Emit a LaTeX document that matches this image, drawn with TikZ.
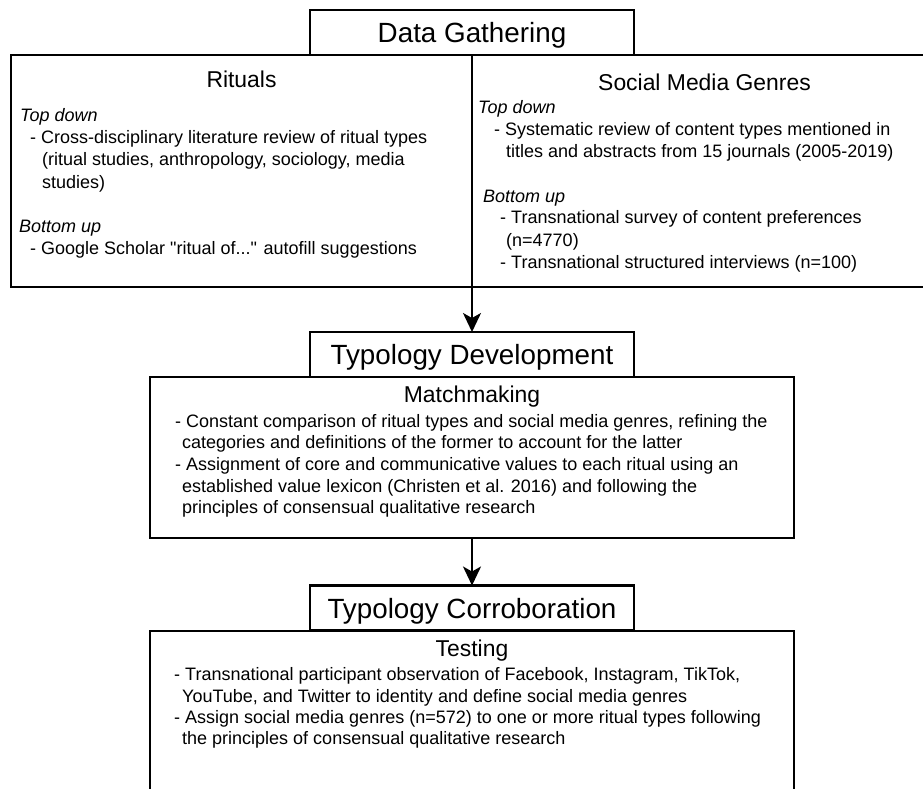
\documentclass[tikz,border=0pt]{standalone}
\usepackage{fontspec}
\setmainfont{Liberation Sans}
\usetikzlibrary{arrows.meta,positioning}

\tikzset{
    stagetitle/.style={draw, line width=2.2pt, fill=white, inner sep=0pt, outer sep=0pt,
        minimum width=324pt, minimum height=45pt, text depth=0pt,
        font=\fontsize{27.8}{32}\selectfont},
    panel/.style={draw, line width=2.4pt, inner sep=0pt, outer sep=0pt, anchor=north west},
    heading/.style={anchor=base, inner sep=0pt, font=\fontsize{22.9}{26}\selectfont},
    bodytext/.style={anchor=base west, inner sep=0pt, font=\fontsize{18}{22}\selectfont},
    flow/.style={line width=2pt, -{Stealth[length=19pt, width=18pt, inset=5pt]}}
}

\begin{document}
\begin{tikzpicture}[x=1pt, y=-1pt]
    \useasboundingbox (0,0) rectangle (923,788);

    % Panels
    \node [panel, minimum width=461pt, minimum height=232pt] (ritbox) at (11,55) {};
    \node [panel, minimum width=465pt, minimum height=232pt] (smgbox) at (472,55) {};
    \node [panel, minimum width=644pt, minimum height=161pt] (matchbox) at (150,377) {};
    \node [panel, minimum width=644pt, minimum height=190pt] (testbox) at (150,631) {};

    % Stage titles
    \node [stagetitle] (gathtitle) at (472,32.5) {Data Gathering};
    \node [stagetitle] (devtitle) at (472,354.5) {Typology Development};
    \node [stagetitle] (corrtitle) at (472,608) {Typology Corroboration};

    % Headings
    \node [heading] (rithead) at (241.5,87) {Rituals};
    \node [heading] (smghead) at (704.5,90) {Social Media Genres};
    \node [heading] (matchhead) at (472,402) {Matchmaking};
    \node [heading] (testhead) at (472,656) {Testing};

    % Rituals
    \foreach \x/\y/\txt [count=\i] in {
        20/121/{\itshape Top down},
        30/143/{- Cross-disciplinary literature review of ritual types},
        42/165/{(ritual studies, anthropology, sociology, media},
        42/188/{studies)},
        19/232/{\itshape Bottom up},
        30/254/{- Google Scholar \textquotedbl ritual of...\textquotedbl{} autofill suggestions}} {
        \node [bodytext] (rit\i) at (\x,\y) {\txt};
    }

    % Social media genres
    \foreach \x/\y/\txt [count=\i] in {
        478/113/{\itshape Top down},
        494/135/{- Systematic review of content types mentioned in},
        506/157/{titles and abstracts from 15 journals (2005-2019)},
        483/202/{\itshape Bottom up},
        500/223/{- Transnational survey of content preferences},
        506/246/{(n=4770)},
        500/268/{- Transnational structured interviews (n=100)}} {
        \node [bodytext] (smg\i) at (\x,\y) {\txt};
    }

    % Matchmaking
    \foreach \x/\y/\txt [count=\i] in {
        175/427/{- Constant comparison of ritual types and social media genres, refining the},
        182/448/{categories and definitions of the former to account for the latter},
        175/470/{- Assignment of core and communicative values to each ritual using an},
        182/492/{established value lexicon (Christen et al. 2016) and following the},
        182/513/{principles of consensual qualitative research}} {
        \node [bodytext] (match\i) at (\x,\y) {\txt};
    }

    % Testing
    \foreach \x/\y/\txt [count=\i] in {
        174/680/{- Transnational participant observation of Facebook, Instagram, TikTok,},
        182/702/{YouTube, and Twitter to identity and define social media genres},
        174/723/{- Assign social media genres (n=572) to one or more ritual types following},
        182/744/{the principles of consensual qualitative research}} {
        \node [bodytext] (test\i) at (\x,\y) {\txt};
    }

    % Arrows
    \draw [flow] (ritbox.south east) -- (devtitle.north);
    \draw [flow] (matchbox.south) -- (corrtitle.north);
\end{tikzpicture}
\end{document}
